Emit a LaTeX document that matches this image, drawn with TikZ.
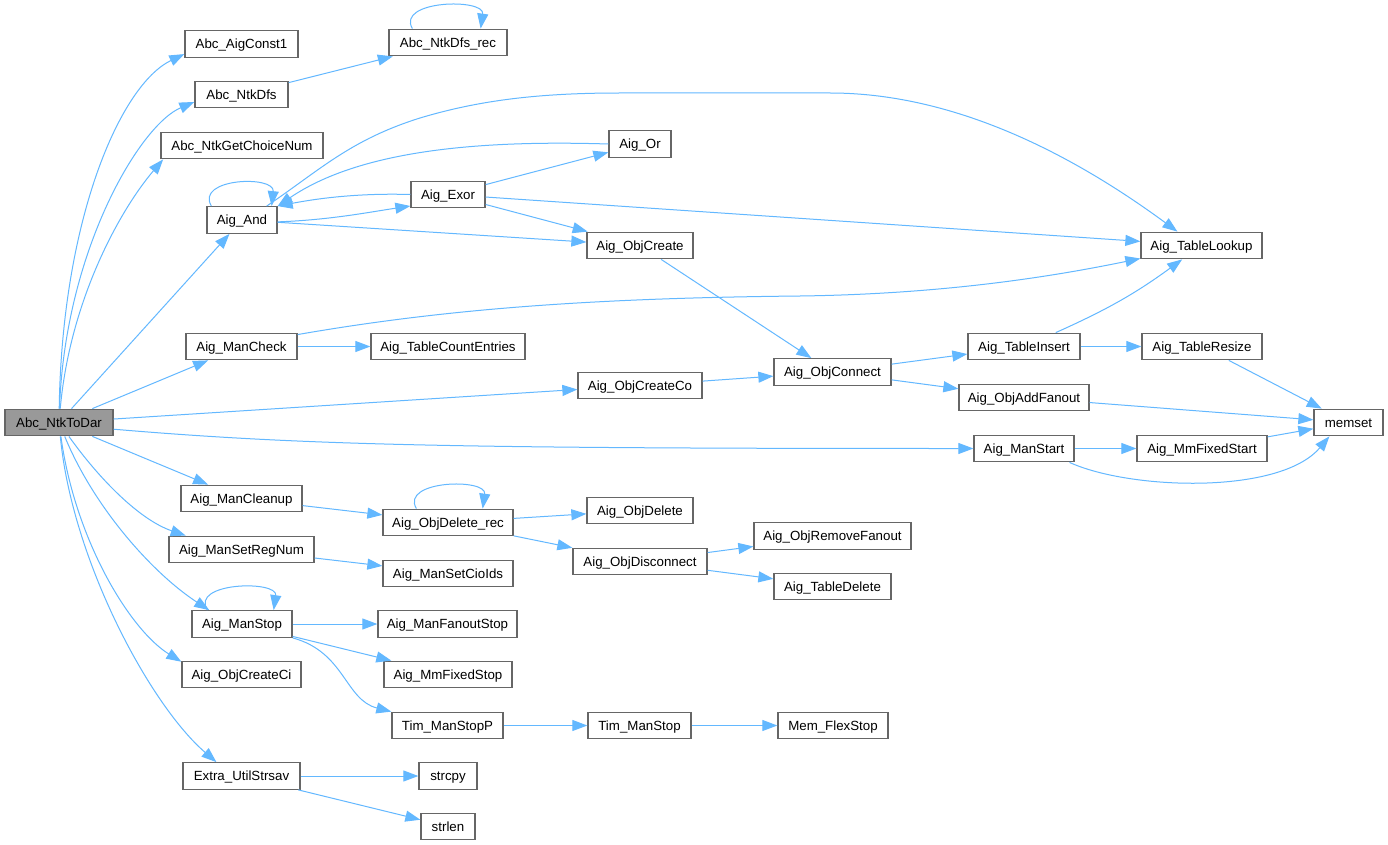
\documentclass[tikz,border=0pt]{standalone}
\usepackage{fontspec}
\setmainfont{Liberation Sans}
\usetikzlibrary{arrows.meta,calc}
\definecolor{edgec}{HTML}{63B8FF}
\definecolor{bord}{HTML}{666666}
\definecolor{hl}{HTML}{999999}
\begin{document}
\begin{tikzpicture}[x=1pt,y=-1pt,
  fn/.style={draw=bord,line width=1.3pt,fill=white,minimum height=26.5pt,inner sep=0pt,text height=9.5pt,text depth=0pt,font=\fontsize{13.3}{16}\selectfont},
  cur/.style={fn,fill=hl},
  call/.style={draw=edgec,line width=1pt,-{Triangle[length=15pt,width=11pt]}}]
\useasboundingbox[fill=white] (0,0) rectangle (1388,845);
% nodes
\node[cur,minimum width=108pt] (ntk) at (59,422.5) {Abc\_NtkToDar};
\node[fn,minimum width=113pt] (const1) at (241.5,44) {Abc\_AigConst1};
\node[fn,minimum width=93pt] (dfs) at (241.5,94.5) {Abc\_NtkDfs};
\node[fn,minimum width=118pt] (dfsrec) at (448,42.5) {Abc\_NtkDfs\_rec};
\node[fn,minimum width=162pt] (choice) at (242,145.5) {Abc\_NtkGetChoiceNum};
\node[fn,minimum width=70pt] (and) at (242,220) {Aig\_And};
\node[fn,minimum width=74pt] (exor) at (448,194.5) {Aig\_Exor};
\node[fn,minimum width=62pt] (or) at (640,144) {Aig\_Or};
\node[fn,minimum width=106pt] (objcreate) at (640,245.5) {Aig\_ObjCreate};
\node[fn,minimum width=121pt] (tlookup) at (1201.5,245.5) {Aig\_TableLookup};
\node[fn,minimum width=111pt] (mancheck) at (241.5,346.5) {Aig\_ManCheck};
\node[fn,minimum width=154pt] (tcount) at (448,346.5) {Aig\_TableCountEntries};
\node[fn,minimum width=124pt] (createco) at (640,385.5) {Aig\_ObjCreateCo};
\node[fn,minimum width=117pt] (connect) at (832.5,372) {Aig\_ObjConnect};
\node[fn,minimum width=112pt] (tinsert) at (1024,346.5) {Aig\_TableInsert};
\node[fn,minimum width=120pt] (tresize) at (1202,346.5) {Aig\_TableResize};
\node[fn,minimum width=130pt] (addfanout) at (1024,397.5) {Aig\_ObjAddFanout};
\node[fn,minimum width=69pt] (memset) at (1348.5,422.5) {memset};
\node[fn,minimum width=100pt] (manstart) at (1024,448.5) {Aig\_ManStart};
\node[fn,minimum width=130pt] (mmfstart) at (1202,448.5) {Aig\_MmFixedStart};
\node[fn,minimum width=121pt] (cleanup) at (241.5,498.5) {Aig\_ManCleanup};
\node[fn,minimum width=130pt] (delrec) at (448,522.5) {Aig\_ObjDelete\_rec};
\node[fn,minimum width=106pt] (objdelete) at (640,510.5) {Aig\_ObjDelete};
\node[fn,minimum width=134pt] (disconnect) at (640,561.5) {Aig\_ObjDisconnect};
\node[fn,minimum width=157pt] (removefanout) at (832.5,536) {Aig\_ObjRemoveFanout};
\node[fn,minimum width=117pt] (tdelete) at (832.5,586.5) {Aig\_TableDelete};
\node[fn,minimum width=145pt] (setregnum) at (241.5,549.5) {Aig\_ManSetRegNum};
\node[fn,minimum width=130pt] (setcioids) at (448,573.5) {Aig\_ManSetCioIds};
\node[fn,minimum width=100pt] (manstop) at (242,624) {Aig\_ManStop};
\node[fn,minimum width=139pt] (fanoutstop) at (447.5,624) {Aig\_ManFanoutStop};
\node[fn,minimum width=119pt] (createci) at (241.5,674.5) {Aig\_ObjCreateCi};
\node[fn,minimum width=128pt] (mmfstop) at (448,674.5) {Aig\_MmFixedStop};
\node[fn,minimum width=111pt] (stopp) at (447.5,725.5) {Tim\_ManStopP};
\node[fn,minimum width=103pt] (timstop) at (639.5,725.5) {Tim\_ManStop};
\node[fn,minimum width=110pt] (flexstop) at (833,725.5) {Mem\_FlexStop};
\node[fn,minimum width=117pt] (strsav) at (241.5,776) {Extra\_UtilStrsav};
\node[fn,minimum width=58pt] (strcpy) at (448,776) {strcpy};
\node[fn,minimum width=54pt] (strlen) at (448,826.5) {strlen};
% edges from Abc_NtkToDar
\draw[call] (ntk) .. controls (62,220) and (120,85) .. (const1.190);
\draw[call] (ntk) .. controls (65,250) and (140,125) .. (dfs.189);
\draw[call] (ntk) .. controls (70,300) and (120,210) .. (choice.190);
\draw[call] (ntk) -- (and);
\draw[call] (ntk) -- (mancheck);
\draw[call] (ntk) -- (createco);
\draw[call] (ntk.-7) .. controls (300,445) and (450,448.5) .. (manstart.west);
\draw[call] (ntk) -- (cleanup);
\draw[call] (ntk) .. controls (100,480) and (140,520) .. (setregnum.166);
\draw[call] (ntk) .. controls (95,510) and (155,575) .. (manstop.157);
\draw[call] (ntk) .. controls (75,540) and (130,630) .. (createci.168);
\draw[call] (ntk) .. controls (72,560) and (150,705) .. (strsav.151);
% other edges
\draw[call] (dfs) -- (dfsrec);
\draw[call] ($(dfsrec.north west)+(24,0)$) .. controls (396,0) and (485,-2) .. ($(dfsrec.north east)+(-27,0)$);
\draw[call] ($(and.north west)+(5,0)$) .. controls (195,178) and (275,175) .. ($(and.north east)+(-6,0)$);
\draw[call] (and.-3) .. controls (330,220) and (370,212) .. (exor.-163);
\draw[call] (exor.west) .. controls (360,193) and (320,198) .. (and.north east);
\draw[call] (or.west) .. controls (480,140) and (360,150) .. (and.north east);
\draw[call] ($(and.north east)+(-11,0)$) .. controls (320,170) and (350,140) .. (420,118)
   .. controls (480,100) and (540,93) .. (620,93) -- (830,93)
   .. controls (960,93) and (1080,160) .. (tlookup.150);
\draw[call] (exor) -- (or);
\draw[call] (exor) -- (objcreate);
\draw[call] (exor) -- (tlookup);
\draw[call] (and) -- (objcreate);
\draw[call] (objcreate) -- (connect);
\draw[call] (mancheck) -- (tcount);
\draw[call] (mancheck.12) .. controls (450,308) and (600,298) .. (800,296)
   .. controls (950,294) and (1060,275) .. (tlookup.192);
\draw[call] (createco) -- (connect);
\draw[call] (connect) -- (tinsert);
\draw[call] (connect) -- (addfanout);
\draw[call] (tinsert) -- (tresize);
\draw[call] (tinsert) to[bend right=6] (tlookup);
\draw[call] (tresize) -- (memset);
\draw[call] (addfanout) -- (memset);
\draw[call] (manstart) -- (mmfstart);
\draw[call] (mmfstart) -- (memset);
\draw[call] (manstart.-17) .. controls (1130,490) and (1280,495) .. (memset.-144);
\draw[call] (cleanup) -- (delrec);
\draw[call] ($(delrec.north west)+(34,0)$) .. controls (400,480) and (487,478) .. ($(delrec.north east)+(-31,0)$);
\draw[call] (delrec) -- (objdelete);
\draw[call] (delrec) -- (disconnect);
\draw[call] (disconnect) -- (removefanout);
\draw[call] (disconnect) -- (tdelete);
\draw[call] (setregnum) -- (setcioids);
\draw[call] ($(manstop.north west)+(16,0)$) .. controls (190,582) and (278,580) .. ($(manstop.north east)+(-19,0)$);
\draw[call] (manstop) -- (fanoutstop);
\draw[call] (manstop) -- (mmfstop);
\draw[call] (manstop.south east) .. controls (345,652) and (345,700) .. (stopp.north west);
\draw[call] (stopp) -- (timstop);
\draw[call] (timstop) -- (flexstop);
\draw[call] (strsav) -- (strcpy);
\draw[call] (strsav) -- (strlen);
\end{tikzpicture}
\end{document}
